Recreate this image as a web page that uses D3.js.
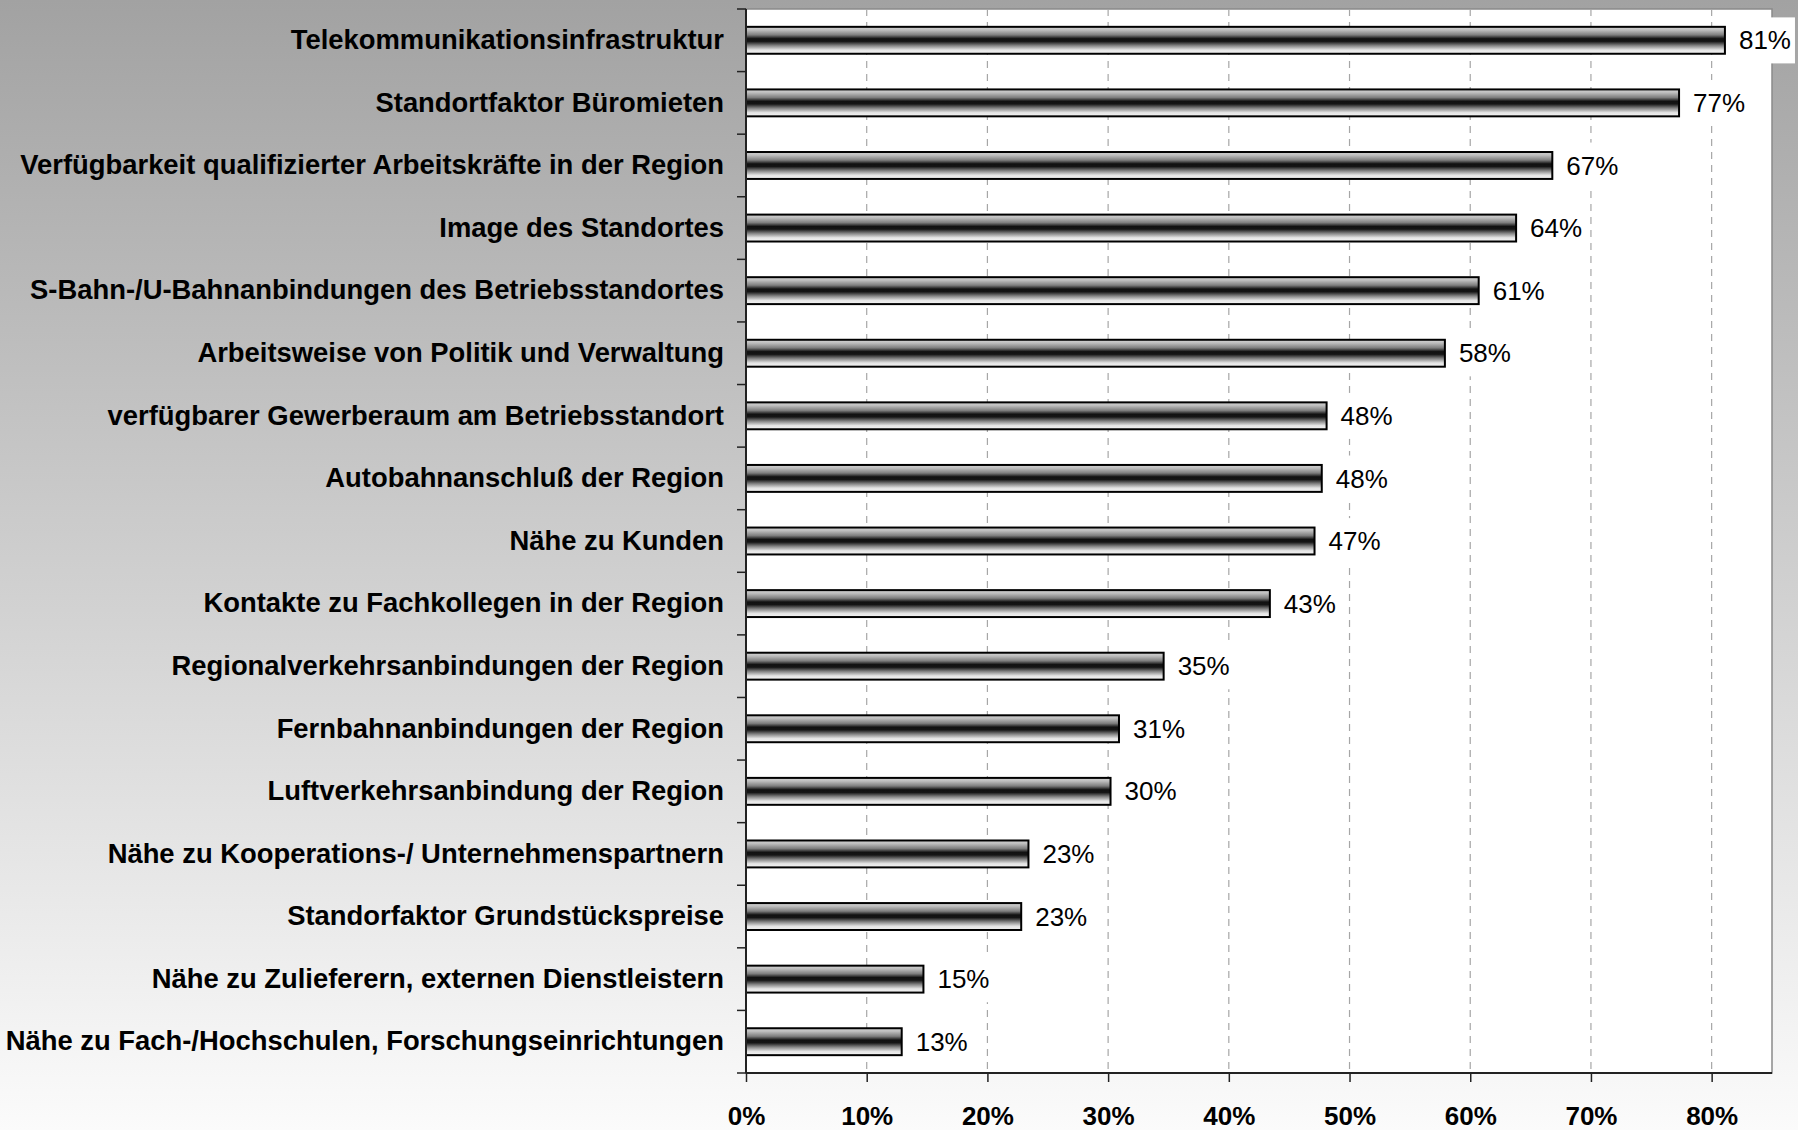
<!DOCTYPE html>
<html>
<head>
<meta charset="utf-8">
<script src="https://cdn.jsdelivr.net/npm/d3@7"></script>
<style>
  html, body { margin: 0; padding: 0; }
  body { width: 1798px; height: 1130px; overflow: hidden; }
  text { font-family: "Liberation Sans", Arial, sans-serif; }
</style>
</head>
<body>
<script>

// --------------------------------------------------
// Data
// --------------------------------------------------

var categories = [
    'Telekommunikationsinfrastruktur',
    'Standortfaktor Büromieten',
    'Verfügbarkeit qualifizierter Arbeitskräfte in der Region',
    'Image des Standortes',
    'S-Bahn-/U-Bahnanbindungen des Betriebsstandortes',
    'Arbeitsweise von Politik und Verwaltung',
    'verfügbarer Gewerberaum am Betriebsstandort',
    'Autobahnanschluß der Region',
    'Nähe zu Kunden',
    'Kontakte zu Fachkollegen in der Region',
    'Regionalverkehrsanbindungen der Region',
    'Fernbahnanbindungen der Region',
    'Luftverkehrsanbindung der Region',
    'Nähe zu Kooperations-/ Unternehmenspartnern',
    'Standorfaktor Grundstückspreise',
    'Nähe zu Zulieferern, externen Dienstleistern',
    'Nähe zu Fach-/Hochschulen, Forschungseinrichtungen'
];

var shares = [0.811, 0.773, 0.668, 0.638, 0.607, 0.579, 0.481, 0.477, 0.471,
              0.434, 0.346, 0.309, 0.302, 0.234, 0.228, 0.147, 0.129];

var xTicks = [0, 0.1, 0.2, 0.3, 0.4, 0.5, 0.6, 0.7, 0.8];
var xMax = 0.85;


// --------------------------------------------------
// Bar Chart
// --------------------------------------------------

var W = 1798, H = 1130;
var margin = { top: 9, right: 26, bottom: 57, left: 746 };
var width = W - margin.left - margin.right;
var height = H - margin.top - margin.bottom;

var svg = d3.select('body').append('svg')
    .attr('width', W)
    .attr('height', H);

var defs = svg.append('defs');

// page background: grey at the top fading to near white
var bg = defs.append('linearGradient')
    .attr('id', 'bgGrad')
    .attr('x1', 0).attr('y1', 0).attr('x2', 0).attr('y2', 1);
bg.append('stop').attr('offset', '0%').attr('stop-color', '#a2a2a2');
bg.append('stop').attr('offset', '100%').attr('stop-color', '#fbfbfb');

// cylinder look of the bars
var barGrad = defs.append('linearGradient')
    .attr('id', 'barGrad')
    .attr('x1', 0).attr('y1', 0).attr('x2', 0).attr('y2', 1);
[['0%', '#d4d4d4'], ['12%', '#bdbdbd'], ['30%', '#7e7e7e'], ['44%', '#111'],
 ['54%', '#151515'], ['70%', '#858585'], ['86%', '#e4e4e4'], ['100%', '#f4f4f4']]
    .forEach(s => barGrad.append('stop').attr('offset', s[0]).attr('stop-color', s[1]));

svg.append('rect')
    .attr('width', W).attr('height', H)
    .attr('fill', 'url(#bgGrad)');

var g = svg.append('g')
    .attr('transform', 'translate(' + margin.left + ',' + margin.top + ')');

var x = d3.scaleLinear()
    .domain([0, xMax])
    .range([0, width]);

var y = d3.scaleBand()
    .domain(categories)
    .range([0, height])
    .paddingInner(0.57)
    .paddingOuter(0.285);

// plot area
g.append('rect')
    .attr('width', width)
    .attr('height', height)
    .attr('fill', '#fff')
    .attr('stroke', '#8a8a8a')
    .attr('stroke-width', 1.5);

// dashed grid lines
g.append('g')
    .selectAll('line')
    .data(xTicks.filter(d => d > 0))
    .enter().append('line')
    .attr('x1', d => x(d)).attr('x2', d => x(d))
    .attr('y1', 0).attr('y2', height)
    .attr('stroke', '#a6a6a6')
    .attr('stroke-width', 1.2)
    .attr('stroke-dasharray', '7,6');

// bars
g.append('g')
    .selectAll('rect')
    .data(shares)
    .enter().append('rect')
    .attr('x', x(0))
    .attr('y', (d, i) => y(categories[i]))
    .attr('width', d => x(d) - x(0))
    .attr('height', y.bandwidth())
    .attr('fill', 'url(#barGrad)')
    .attr('stroke', '#000')
    .attr('stroke-width', 2);

// value labels with white box
var fmt = d3.format('.0%');
var labels = g.append('g')
    .selectAll('g')
    .data(shares)
    .enter().append('g');

labels.append('text')
    .attr('x', d => x(d) + 14)
    .attr('y', (d, i) => y(categories[i]) + y.bandwidth() / 2)
    .attr('dy', '0.35em')
    .attr('font-size', 26)
    .attr('fill', '#000')
    .text(d => fmt(d));

labels.each(function () {
    var t = d3.select(this).select('text');
    var b = t.node().getBBox();
    d3.select(this).insert('rect', 'text')
        .attr('x', b.x - 6).attr('y', b.y - 8)
        .attr('width', b.width + 10).attr('height', b.height + 16)
        .attr('fill', '#fff');
});

// y axis: labels
var yAxis = g.append('g')
    .call(d3.axisLeft(y).tickSize(0).tickPadding(22));
yAxis.select('.domain').remove();
yAxis.selectAll('text')
    .attr('font-size', 27.4)
    .attr('font-weight', 'bold')
    .attr('fill', '#000')
    .style('font-family', '"Liberation Sans", Arial, sans-serif');

// y axis: line and ticks between categories
var step = y.step();
var bounds = d3.range(categories.length + 1).map(i => i * step);
g.append('g')
    .selectAll('line')
    .data(bounds)
    .enter().append('line')
    .attr('x1', -9).attr('x2', 0)
    .attr('y1', d => d).attr('y2', d => d)
    .attr('stroke', '#222')
    .attr('stroke-width', 1.5);
g.append('line')
    .attr('x1', 0).attr('x2', 0)
    .attr('y1', 0).attr('y2', height)
    .attr('stroke', '#222')
    .attr('stroke-width', 2);

// x axis
var xAxis = g.append('g')
    .attr('transform', 'translate(0,' + height + ')')
    .call(d3.axisBottom(x).tickValues(xTicks).tickFormat(fmt).tickSize(9).tickPadding(25));
xAxis.select('.domain')
    .attr('stroke', '#222')
    .attr('stroke-width', 2)
    .attr('d', 'M0,0H' + width);
xAxis.selectAll('.tick line')
    .attr('stroke', '#222')
    .attr('stroke-width', 1.5);
xAxis.selectAll('text')
    .attr('font-size', 26)
    .attr('font-weight', 'bold')
    .attr('fill', '#000')
    .style('font-family', '"Liberation Sans", Arial, sans-serif');

</script>
</body>
</html>
